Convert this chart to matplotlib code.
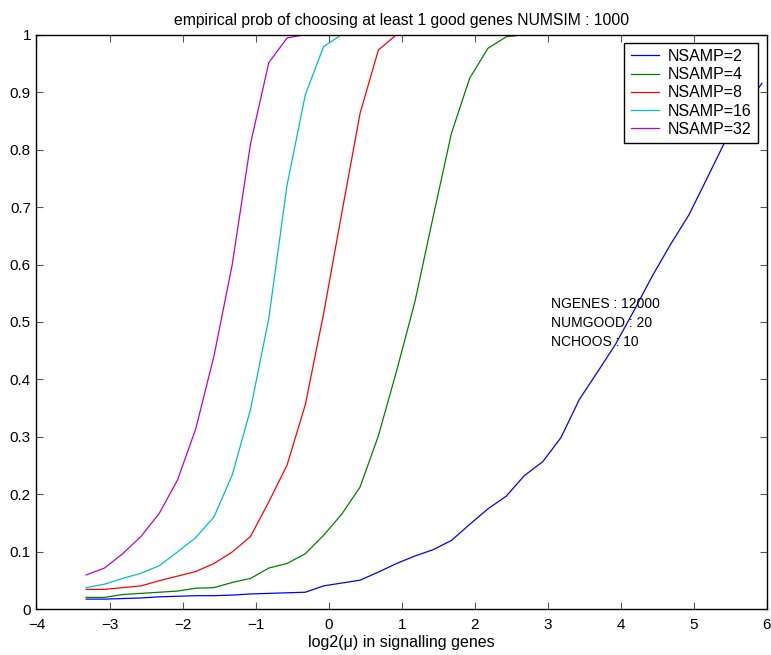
import numpy as np
import matplotlib
matplotlib.use("Agg")
import matplotlib.pyplot as plt

plt.rcParams['font.family'] = ['Liberation Sans', 'DejaVu Sans']

x = [-3.32, -3.07, -2.82, -2.57, -2.32, -2.07, -1.82, -1.57, -1.32, -1.07,
     -0.82, -0.57, -0.32, -0.07, 0.18, 0.43, 0.68, 0.93, 1.18, 1.43,
     1.68, 1.93, 2.18, 2.43, 2.68, 2.93, 3.18, 3.43, 3.68, 3.93,
     4.18, 4.43, 4.68, 4.93, 5.18, 5.43, 5.68, 5.93]

nsamp2 = [0.018, 0.018, 0.019, 0.020, 0.022, 0.023, 0.024, 0.024, 0.025, 0.027,
          0.028, 0.029, 0.030, 0.041, 0.046, 0.051, 0.065, 0.080, 0.093, 0.104,
          0.120, 0.148, 0.175, 0.197, 0.233, 0.257, 0.299, 0.365, 0.413, 0.462,
          0.520, 0.580, 0.635, 0.686, 0.750, 0.815, 0.870, 0.915]
nsamp4 = [0.021, 0.021, 0.026, 0.028, 0.030, 0.032, 0.037, 0.038, 0.047, 0.054,
          0.072, 0.080, 0.097, 0.129, 0.166, 0.213, 0.302, 0.415, 0.535, 0.683,
          0.828, 0.924, 0.976, 0.996, 1.0, 1.0, 1.0, 1.0, 1.0, 1.0,
          1.0, 1.0, 1.0, 1.0, 1.0, 1.0, 1.0, 1.0]
nsamp8 = [0.035, 0.035, 0.038, 0.041, 0.050, 0.058, 0.066, 0.080, 0.100, 0.127,
          0.187, 0.251, 0.356, 0.514, 0.690, 0.863, 0.973, 1.0, 1.0, 1.0,
          1.0, 1.0, 1.0, 1.0, 1.0, 1.0, 1.0, 1.0, 1.0, 1.0,
          1.0, 1.0, 1.0, 1.0, 1.0, 1.0, 1.0, 1.0]
nsamp16 = [0.038, 0.044, 0.054, 0.063, 0.076, 0.100, 0.125, 0.161, 0.234, 0.348,
           0.506, 0.738, 0.895, 0.979, 1.0, 1.0, 1.0, 1.0, 1.0, 1.0,
           1.0, 1.0, 1.0, 1.0, 1.0, 1.0, 1.0, 1.0, 1.0, 1.0,
           1.0, 1.0, 1.0, 1.0, 1.0, 1.0, 1.0, 1.0]
nsamp32 = [0.060, 0.072, 0.097, 0.127, 0.167, 0.225, 0.314, 0.441, 0.600, 0.810,
           0.951, 0.994, 1.0, 1.0, 1.0, 1.0, 1.0, 1.0, 1.0, 1.0,
           1.0, 1.0, 1.0, 1.0, 1.0, 1.0, 1.0, 1.0, 1.0, 1.0,
           1.0, 1.0, 1.0, 1.0, 1.0, 1.0, 1.0, 1.0]

series = [nsamp2, nsamp4, nsamp8, nsamp16, nsamp32]
labels = ["NSAMP=2", "NSAMP=4", "NSAMP=8", "NSAMP=16", "NSAMP=32"]
colors = ["#0000ff", "#008000", "#ff0000", "#00bfbf", "#bf00bf"]

xticks = [-4, -3, -2, -1, 0, 1, 2, 3, 4, 5, 6]
yticks = [0, 0.1, 0.2, 0.3, 0.4, 0.5, 0.6, 0.7, 0.8, 0.9, 1]
yticklabels = ["0", "0.1", "0.2", "0.3", "0.4", "0.5", "0.6", "0.7", "0.8", "0.9", "1"]

fig = plt.figure(figsize=(7.71, 6.55), dpi=100)
ax = fig.add_axes([0.0473, 0.0695, 0.9475, 0.8778])

for ys, lab, c in zip(series, labels, colors):
    ax.plot(x, ys, color=c, lw=0.9, label=lab)

ax.set_xlim(-4, 6)
ax.set_ylim(0, 1)
ax.set_xticks(xticks)
ax.set_xticklabels([str(t).replace('-', '\u2212') for t in xticks])
ax.set_yticks(yticks)
ax.set_yticklabels(yticklabels)
ax.tick_params(direction='in', top=True, right=True, length=5, width=0.8,
               labelsize=11, color='#555555')
ax.tick_params(axis='x', pad=6)
ax.tick_params(axis='y', pad=4)
for s in ax.spines.values():
    s.set_linewidth(1.0)

ax.set_title("empirical prob of choosing at least 1 good genes NUMSIM : 1000",
             fontsize=11.3, pad=7)
ax.set_xlabel("log2(\u03bc) in signalling genes", fontsize=11.5, labelpad=2)

ax.text(3.05, 0.543, "NGENES : 12000\nNUMGOOD : 20\nNCHOOS : 10",
        fontsize=10, va='top', ha='left', linespacing=1.45)

leg = ax.legend(loc='upper right', bbox_to_anchor=(0.988, 0.986), fontsize=11.5,
                frameon=True, fancybox=False, edgecolor='black', framealpha=1,
                borderpad=0.4, labelspacing=0.2, handlelength=1.8,
                handletextpad=0.55, borderaxespad=0)
leg.get_frame().set_linewidth(1.0)

fig.savefig("out.png", dpi=100)
